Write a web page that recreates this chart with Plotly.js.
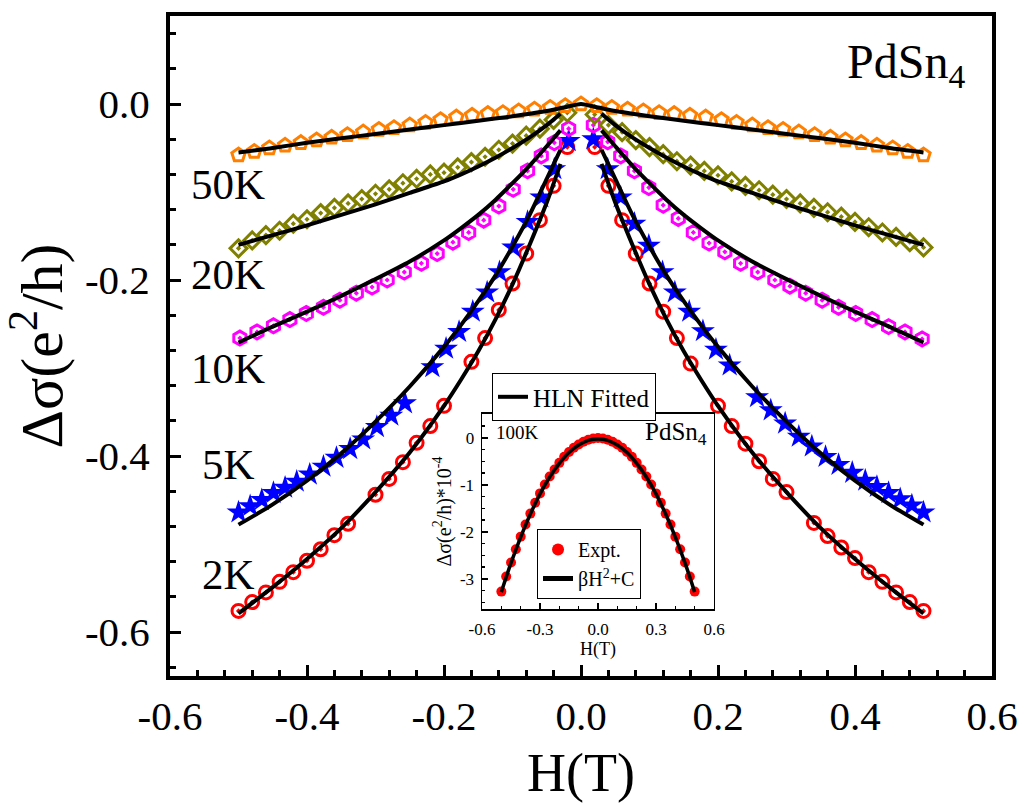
<!DOCTYPE html>
<html><head><meta charset="utf-8">
<script src="https://cdn.plot.ly/plotly-3.0.1.min.js"></script>
<style>html,body{margin:0;padding:0;background:#fff}#chart{width:1024px;height:812px}</style>
</head><body><div id="chart"></div>
<script>
// ---------- main panel data ----------
const H_2K = [-0.50,-0.48,-0.46,-0.44,-0.42,-0.40,-0.38,-0.36,-0.34,-0.30,-0.28,-0.26,-0.24,-0.22,-0.20,-0.16,-0.14,-0.12,-0.10,-0.08,-0.06,-0.04,-0.02,
              0.02,0.04,0.06,0.08,0.10,0.12,0.14,0.16,0.20,0.22,0.24,0.26,0.28,0.30,0.34,0.36,0.38,0.40,0.42,0.44,0.46,0.48,0.50];
const S_2K = [-0.576,-0.566,-0.555,-0.543,-0.532,-0.519,-0.506,-0.490,-0.477,-0.444,-0.426,-0.407,-0.385,-0.366,-0.343,-0.293,-0.266,-0.234,-0.204,-0.170,-0.132,-0.093,-0.049,
              -0.049,-0.093,-0.132,-0.170,-0.204,-0.236,-0.266,-0.295,-0.343,-0.366,-0.386,-0.406,-0.426,-0.441,-0.476,-0.491,-0.504,-0.516,-0.532,-0.543,-0.555,-0.566,-0.576];

const H_5K = [-0.500,-0.483,-0.466,-0.449,-0.432,-0.415,-0.396,-0.376,-0.357,-0.337,-0.318,-0.298,-0.277,-0.257,-0.217,-0.197,-0.178,-0.158,-0.137,-0.119,-0.099,-0.078,-0.058,-0.039,-0.018,
              0.018,0.039,0.058,0.078,0.099,0.119,0.137,0.158,0.178,0.197,0.217,0.257,0.277,0.298,0.318,0.337,0.357,0.376,0.396,0.415,0.432,0.449,0.466,0.483,0.500];
const S_5K = [-0.464,-0.457,-0.450,-0.442,-0.436,-0.429,-0.421,-0.412,-0.402,-0.392,-0.381,-0.367,-0.354,-0.340,-0.299,-0.278,-0.259,-0.236,-0.214,-0.191,-0.163,-0.134,-0.106,-0.074,-0.042,
              -0.040,-0.074,-0.106,-0.136,-0.161,-0.191,-0.214,-0.236,-0.258,-0.279,-0.297,-0.333,-0.348,-0.363,-0.378,-0.389,-0.401,-0.410,-0.419,-0.428,-0.435,-0.442,-0.449,-0.456,-0.464];

const H_10K = [-0.498,-0.473,-0.449,-0.425,-0.401,-0.376,-0.352,-0.328,-0.305,-0.283,-0.258,-0.233,-0.210,-0.187,-0.164,-0.142,-0.120,-0.099,-0.078,-0.058,-0.039,-0.018,
               0.018,0.039,0.058,0.078,0.099,0.120,0.142,0.164,0.187,0.210,0.233,0.258,0.283,0.305,0.328,0.352,0.376,0.401,0.425,0.449,0.473,0.498];
const S_10K = [-0.266,-0.259,-0.252,-0.245,-0.238,-0.231,-0.223,-0.215,-0.208,-0.200,-0.191,-0.181,-0.170,-0.157,-0.146,-0.132,-0.116,-0.097,-0.076,-0.059,-0.044,-0.028,
               -0.024,-0.043,-0.059,-0.076,-0.095,-0.115,-0.130,-0.146,-0.158,-0.168,-0.181,-0.191,-0.200,-0.207,-0.215,-0.223,-0.231,-0.238,-0.245,-0.253,-0.259,-0.267];

const H_20K = [-0.50,-0.48,-0.46,-0.44,-0.42,-0.40,-0.38,-0.36,-0.34,-0.32,-0.30,-0.28,-0.26,-0.24,-0.22,-0.20,-0.18,-0.16,-0.14,-0.12,-0.10,-0.08,-0.06,-0.04,-0.02,
               0.02,0.04,0.06,0.08,0.10,0.12,0.14,0.16,0.18,0.20,0.22,0.24,0.26,0.28,0.30,0.32,0.34,0.36,0.38,0.40,0.42,0.44,0.46,0.48,0.50];
const S_20K = [-0.164,-0.155,-0.149,-0.144,-0.136,-0.131,-0.124,-0.118,-0.113,-0.108,-0.102,-0.097,-0.090,-0.085,-0.080,-0.078,-0.072,-0.066,-0.060,-0.052,-0.045,-0.036,-0.028,-0.018,-0.010,
               -0.012,-0.024,-0.032,-0.041,-0.049,-0.057,-0.065,-0.070,-0.076,-0.081,-0.088,-0.093,-0.098,-0.103,-0.108,-0.113,-0.118,-0.123,-0.128,-0.134,-0.140,-0.146,-0.151,-0.157,-0.163];

const H_50K = [-0.500,-0.477,-0.455,-0.432,-0.409,-0.386,-0.364,-0.341,-0.318,-0.295,-0.273,-0.250,-0.227,-0.205,-0.182,-0.159,-0.136,-0.114,-0.091,-0.068,-0.045,-0.023,0,
               0.023,0.045,0.068,0.091,0.114,0.136,0.159,0.182,0.205,0.227,0.250,0.273,0.295,0.318,0.341,0.364,0.386,0.409,0.432,0.455,0.477,0.500];
const S_50K = [-0.058,-0.054,-0.050,-0.047,-0.044,-0.041,-0.038,-0.035,-0.032,-0.029,-0.027,-0.024,-0.021,-0.018,-0.015,-0.013,-0.011,-0.010,-0.008,-0.006,-0.004,-0.002,0,
               -0.002,-0.004,-0.006,-0.008,-0.010,-0.011,-0.013,-0.015,-0.018,-0.021,-0.024,-0.027,-0.029,-0.032,-0.035,-0.038,-0.041,-0.044,-0.047,-0.050,-0.054,-0.058];

// HLN fitted curves (gap at H = 0)
const fitH = [-0.5,-0.45,-0.4,-0.35,-0.3,-0.25,-0.2,-0.175,-0.15,-0.125,-0.1,-0.075,-0.05,-0.03,0,0.03,0.05,0.075,0.1,0.125,0.15,0.175,0.2,0.25,0.3,0.35,0.4,0.45,0.5];
const fit_2K  = [-0.579,-0.549,-0.517,-0.482,-0.441,-0.396,-0.343,-0.313,-0.281,-0.245,-0.205,-0.160,-0.112,-0.068,null,-0.068,-0.112,-0.160,-0.205,-0.245,-0.281,-0.313,-0.343,-0.396,-0.441,-0.482,-0.517,-0.549,-0.579];
const fit_5K  = [-0.478,-0.455,-0.428,-0.397,-0.361,-0.321,-0.276,-0.251,-0.224,-0.195,-0.162,-0.126,-0.085,-0.052,null,-0.052,-0.085,-0.126,-0.162,-0.195,-0.224,-0.251,-0.276,-0.321,-0.361,-0.397,-0.428,-0.455,-0.478];
const fit_10K = [-0.271,-0.253,-0.236,-0.218,-0.199,-0.179,-0.155,-0.141,-0.126,-0.109,-0.090,-0.070,-0.048,-0.030,null,-0.030,-0.048,-0.070,-0.090,-0.109,-0.126,-0.141,-0.155,-0.179,-0.199,-0.218,-0.236,-0.253,-0.271];
const fit_20K = [-0.160,-0.149,-0.138,-0.126,-0.114,-0.101,-0.088,-0.080,-0.071,-0.061,-0.050,-0.038,-0.024,-0.011,null,-0.011,-0.024,-0.038,-0.050,-0.061,-0.071,-0.080,-0.088,-0.101,-0.114,-0.126,-0.138,-0.149,-0.160];
const fitH50 = [-0.5,-0.45,-0.4,-0.35,-0.3,-0.25,-0.2,-0.15,-0.1,-0.075,-0.05,-0.025,0,0.025,0.05,0.075,0.1,0.15,0.2,0.25,0.3,0.35,0.4,0.45,0.5];
const fit_50K = [-0.055,-0.050,-0.044,-0.039,-0.034,-0.029,-0.024,-0.019,-0.014,-0.011,-0.008,-0.004,0,-0.004,-0.008,-0.011,-0.014,-0.019,-0.024,-0.029,-0.034,-0.039,-0.044,-0.050,-0.055];

// ---------- inset data (100K) ----------
const insetH = [-0.5,-0.475,-0.45,-0.425,-0.4,-0.375,-0.35,-0.325,-0.3,-0.275,-0.25,-0.225,-0.2,-0.175,-0.15,-0.125,-0.1,-0.075,-0.05,-0.025,0,
                0.025,0.05,0.075,0.1,0.125,0.15,0.175,0.2,0.225,0.25,0.275,0.3,0.325,0.35,0.375,0.4,0.425,0.45,0.475,0.5];
const insetExpt = [-3.27,-2.95,-2.65,-2.37,-2.10,-1.84,-1.61,-1.38,-1.18,-0.99,-0.82,-0.67,-0.53,-0.40,-0.30,-0.21,-0.14,-0.08,-0.04,-0.01,0.00,
                   -0.01,-0.04,-0.08,-0.14,-0.21,-0.30,-0.40,-0.53,-0.67,-0.82,-0.99,-1.18,-1.38,-1.61,-1.84,-2.10,-2.37,-2.65,-2.95,-3.27];
const insetFitH = [-0.5,-0.45,-0.4,-0.35,-0.3,-0.25,-0.2,-0.15,-0.1,-0.05,0,0.05,0.1,0.15,0.2,0.25,0.3,0.35,0.4,0.45,0.5];
const insetFit  = [-3.28,-2.66,-2.11,-1.62,-1.19,-0.83,-0.54,-0.31,-0.15,-0.05,-0.02,-0.05,-0.15,-0.31,-0.54,-0.83,-1.19,-1.62,-2.11,-2.66,-3.28];

// ---------- ticks & labels ----------
const xTickVals = [-0.6,-0.4,-0.2,0,0.2,0.4,0.6];
const xTickText = ['-0.6','-0.4','-0.2','0.0','0.2','0.4','0.6'];
const yTickVals = [0,-0.2,-0.4,-0.6];
const yTickText = ['0.0','-0.2','-0.4','-0.6'];
const ix2TickVals = [-0.6,-0.3,0,0.3,0.6];
const ix2TickText = ['-0.6','-0.3','0.0','0.3','0.6'];
const iy2TickVals = [0,-1,-2,-3];
const iy2TickText = ['0','-1','-2','-3'];
const tempLabels = ['50K','20K','10K','5K','2K'];
const tempLabelY = [-0.092,-0.194,-0.300,-0.410,-0.535];

const FONT = '"Liberation Serif", "Times New Roman", Times, serif';
const colors = {k2:'#FF0000', k5:'#0000FF', k10:'#FF00FF', k20:'#808000', k50:'#FF8000'};

function dataTrace(x, y, sym, color, size) {
  const filled = (sym === 'star');
  return {x:x, y:y, type:'scatter', mode:'markers', showlegend:false, xaxis:'x', yaxis:'y',
    marker:{symbol:sym, size:size, color:color, line:{color:color, width: filled ? 0 : 3}}};
}
function fitTrace(x, y, show) {
  return {x:x, y:y, type:'scatter', mode:'lines', name:'HLN Fitted', showlegend:show, legend:'legend',
    connectgaps:false, line:{color:'black', width:4, shape:'spline', smoothing:0.6}, xaxis:'x', yaxis:'y'};
}

const traces = [
  dataTrace(H_2K, S_2K, 'circle-open-dot', colors.k2, 13),
  dataTrace(H_5K, S_5K, 'star', colors.k5, 18),
  dataTrace(H_10K, S_10K, 'hexagon-open-dot', colors.k10, 14),
  dataTrace(H_20K, S_20K, 'diamond-open-dot', colors.k20, 13),
  dataTrace(H_50K, S_50K, 'pentagon-open', colors.k50, 14),
  fitTrace(fitH, fit_2K, true),
  fitTrace(fitH, fit_5K, false),
  fitTrace(fitH, fit_10K, false),
  fitTrace(fitH, fit_20K, false),
  fitTrace(fitH50, fit_50K, false),
  {x:insetH, y:insetExpt, type:'scatter', mode:'markers', name:'Expt.', legend:'legend2',
   marker:{color:'#FF0000', size:10, symbol:'circle'}, xaxis:'x2', yaxis:'y2'},
  {x:insetFitH, y:insetFit, type:'scatter', mode:'lines', name:'βH<sup>2</sup>+C', legend:'legend2',
   line:{color:'black', width:3.5, shape:'spline'}, xaxis:'x2', yaxis:'y2'}
];

const annotations = tempLabels.map((t, i) => ({
  text:t, x:-0.515, y:tempLabelY[i], xref:'x', yref:'y', showarrow:false,
  xanchor:'center', yanchor:'middle', font:{family:FONT, size:43, color:'black'}
}));
annotations.push({text:'PdSn<sub>4</sub>', xref:'paper', yref:'paper', x:0.97, y:0.975, xanchor:'right', yanchor:'top',
  showarrow:false, font:{family:FONT, size:48, color:'black'}});
annotations.push({text:'100K', xref:'x2 domain', yref:'y2 domain', x:0.05, y:0.97, xanchor:'left', yanchor:'top',
  showarrow:false, font:{family:FONT, size:19, color:'black'}});
annotations.push({text:'PdSn<sub>4</sub>', xref:'x2 domain', yref:'y2 domain', x:0.98, y:0.99, xanchor:'right', yanchor:'top',
  showarrow:false, font:{family:FONT, size:25, color:'black'}});

const layout = {
  width:1024, height:812,
  margin:{l:170, r:32, t:16, b:136, pad:0},
  paper_bgcolor:'#ffffff', plot_bgcolor:'#ffffff',
  font:{family:FONT, color:'black'},
  xaxis:{domain:[0,1], range:[-0.6,0.6], tickmode:'array', tickvals:xTickVals, ticktext:xTickText,
    ticks:'inside', ticklen:11, tickwidth:3, tickcolor:'black', showline:true, linewidth:4, linecolor:'black',
    mirror:true, showgrid:false, zeroline:false, tickfont:{family:FONT, size:41}, ticklabelstandoff:1,
    minor:{tickmode:'linear', tick0:0, dtick:0.04, ticks:'inside', ticklen:6, tickwidth:3, tickcolor:'black', showgrid:false},
    title:{text:'H(T)', font:{family:FONT, size:54}, standoff:16}},
  yaxis:{domain:[0,1], range:[-0.65,0.1], tickmode:'array', tickvals:yTickVals, ticktext:yTickText,
    ticks:'inside', ticklen:11, tickwidth:3, tickcolor:'black', showline:true, linewidth:4, linecolor:'black',
    mirror:true, showgrid:false, zeroline:false, tickfont:{family:FONT, size:41}, ticklabelstandoff:8,
    minor:{tickmode:'linear', tick0:0, dtick:0.04, ticks:'inside', ticklen:6, tickwidth:3, tickcolor:'black', showgrid:false},
    title:{text:'Δσ(e<sup>2</sup>/h)', font:{family:FONT, size:60}, standoff:12}},
  xaxis2:{domain:[0.3796,0.6618], anchor:'y2', range:[-0.6,0.6], tickmode:'array', tickvals:ix2TickVals, ticktext:ix2TickText,
    ticks:'inside', ticklen:6, tickwidth:1.5, tickcolor:'black', showline:true, linewidth:1.5, linecolor:'black',
    mirror:true, showgrid:false, zeroline:false, tickfont:{family:FONT, size:17}, ticklabelstandoff:4,
    minor:{tickmode:'linear', tick0:0, dtick:0.1, ticks:'inside', ticklen:3, tickwidth:1.5, tickcolor:'black', showgrid:false},
    title:{text:'H(T)', font:{family:FONT, size:18}, standoff:0}},
  yaxis2:{domain:[0.1015,0.397], anchor:'x2', range:[-3.64,0.51], tickmode:'array', tickvals:iy2TickVals, ticktext:iy2TickText,
    ticks:'inside', ticklen:6, tickwidth:1.5, tickcolor:'black', showline:true, linewidth:1.5, linecolor:'black',
    mirror:true, showgrid:false, zeroline:false, tickfont:{family:FONT, size:17}, ticklabelstandoff:3,
    minor:{tickmode:'linear', tick0:0, dtick:0.25, ticks:'inside', ticklen:3, tickwidth:1.5, tickcolor:'black', showgrid:false},
    title:{text:'Δσ(e<sup>2</sup>/h)*10<sup>-4</sup>', font:{family:FONT, size:20}, standoff:3}},
  legend:{x:0.3917, y:0.459, xanchor:'left', yanchor:'top', bordercolor:'black', borderwidth:1, bgcolor:'#ffffff',
    font:{family:FONT, size:25, color:'black'}},
  legend2:{x:0.4465, y:0.2227, xanchor:'left', yanchor:'top', bordercolor:'black', borderwidth:1, bgcolor:'#ffffff',
    font:{family:FONT, size:20, color:'black'}, itemsizing:'constant'},
  annotations:annotations
};

Plotly.newPlot('chart', traces, layout, {displayModeBar:false, staticPlot:true});
</script></body></html>
